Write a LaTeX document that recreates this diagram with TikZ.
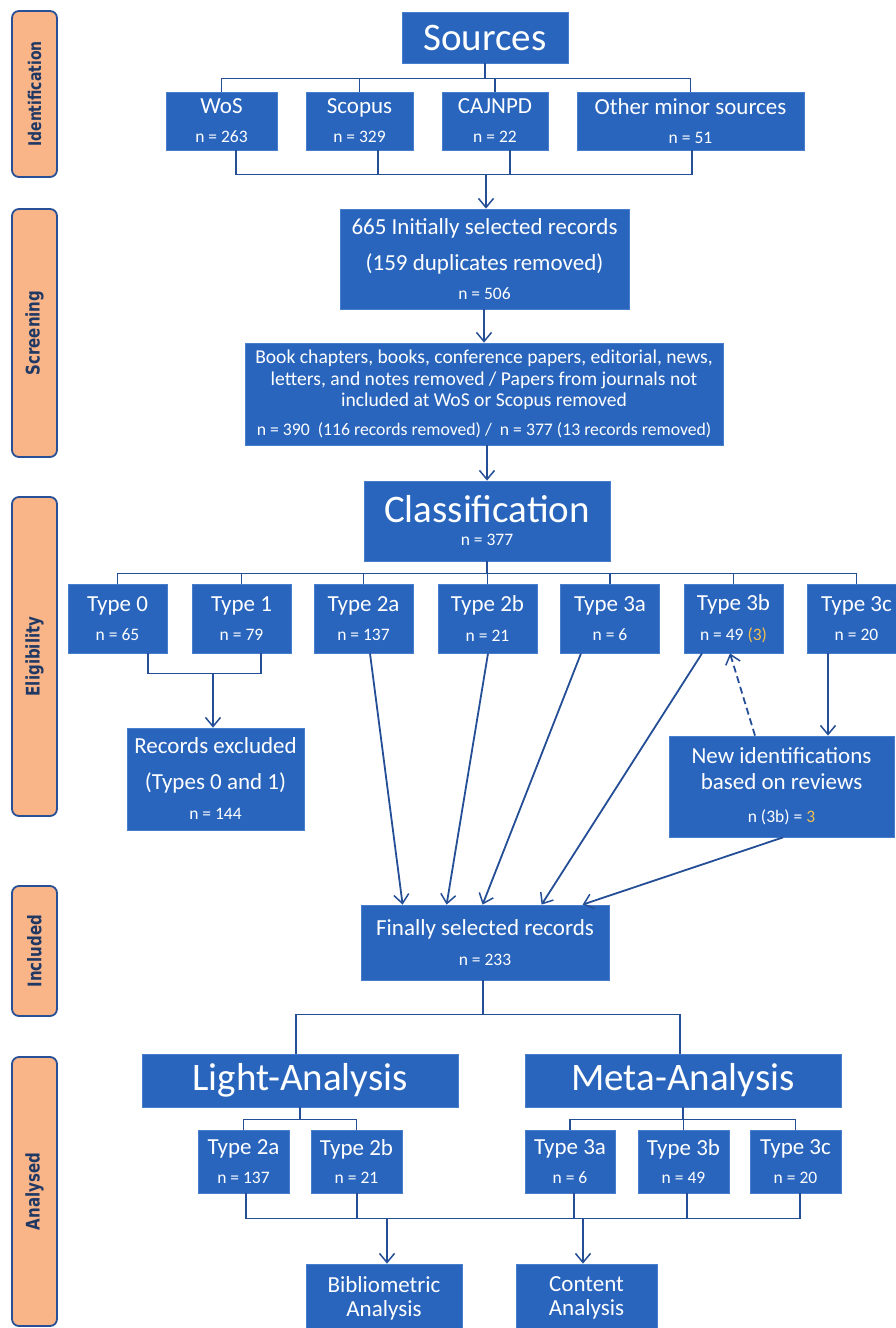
\documentclass[tikz,border=0pt]{standalone}
\usepackage{fontspec}
\setmainfont{Carlito}
\newfontfamily\lblfont{DejaVu Sans}
\usetikzlibrary{arrows.meta,calc}
\definecolor{boxblue}{RGB}{41,101,189}
\definecolor{boxedge}{RGB}{70,125,205}
\definecolor{linec}{RGB}{36,78,150}
\definecolor{lblfill}{RGB}{249,180,136}
\definecolor{lbledge}{RGB}{40,80,150}
\definecolor{lbltext}{RGB}{31,56,100}
\definecolor{gold}{RGB}{240,190,80}
\newcommand\fbig{\fontsize{39}{39}\selectfont}
\newcommand\fmain{\fontsize{23}{28}\selectfont}
\newcommand\fsmall{\fontsize{17.5}{21}\selectfont}
\newcommand\fbook{\fontsize{19.6}{21.5}\selectfont}
\newcommand\fbookn{\fontsize{17.7}{21.5}\selectfont}
\newcommand\sidetext[2][1]{\rotatebox{90}{\scalebox{1}[1.25]{#2}}}
\begin{document}
\begin{tikzpicture}[x=1pt,y=-1pt,
  box/.style={fill=boxblue,draw=boxedge,line width=0.8pt,text=white,align=center,inner sep=0pt,anchor=center},
  sk/.style={font=\fontsize{23}{#1}\selectfont},
  side/.style={fill=lblfill,draw=lbledge,line width=1.8pt,rounded corners=7pt,inner sep=0pt,anchor=center,
     minimum width=45pt,text=lbltext,font=\lblfont\bfseries\fontsize{15}{15}\selectfont},
  conn/.style={draw=linec,line width=1.8pt},
  arr/.style={conn,-{Straight Barb[length=9pt,width=15pt,line width=1.5pt]}}]
\useasboundingbox (0,0) rectangle (896,1328);
\fill[white] (0,0) rectangle (896,1328);

% side labels
\node[side,minimum height=166pt] (sId) at (34.5,94) {\sidetext{\fontsize{14}{14}\selectfont Identification}};
\node[side,minimum height=248pt] (sScr) at (34.5,333) {\sidetext{Screening}};
\node[side,minimum height=319pt] (sEl) at (34.5,656.5) {\sidetext{Eligibility}};
\node[side,minimum height=130pt] (sIn) at (34.5,951) {\sidetext{Included}};
\node[side,minimum height=269pt] (sAn) at (34.5,1191.5) {\sidetext{Analysed}};

% identification
\node[box,minimum width=166pt,minimum height=51pt] (src) at (485,37.5) {\fbig Sources};
\node[box,sk=29,minimum width=111pt,minimum height=58pt] (wos) at (221.5,121) {WoS\\\fsmall n = 263};
\node[box,sk=29,minimum width=107pt,minimum height=58pt] (sco) at (359.5,121) {Scopus\\\fsmall n = 329};
\node[box,sk=29,minimum width=106pt,minimum height=58pt] (caj) at (495,121) {CAJNPD\\\fsmall n = 22};
\node[box,sk=29,minimum width=227pt,minimum height=58pt] (oth) at (690.5,121) {Other minor sources\\\fsmall n = 51};

\coordinate (b1) at ($(src.south)+(0,15)$);
\draw[conn] (src.south) -- (b1);
\draw[conn] (wos.north) |- (b1) -| (oth.north);
\draw[conn] (sco.north) -- (sco.north |- b1);
\draw[conn] (caj.north) -- (caj.north |- b1);

\coordinate (j1) at ($(wos.south)+(14.5,24)$);
\coordinate (j2) at ($(oth.south)+(1.5,24)$);
\draw[conn] ($(wos.south)+(14.5,0)$) -- (j1) -- (j2) -- ($(oth.south)+(1.5,0)$);
\draw[conn] ($(sco.south)+(18.5,0)$) -- ++(0,24);
\draw[conn] ($(caj.south)+(15,0)$) -- ++(0,24);

% screening
\node[box,sk=29,minimum width=289pt,minimum height=100pt] (ini) at (484.5,259) {665 Initially selected records\\[7pt](159 duplicates removed)\\\fsmall n = 506};
\coordinate (j3) at (486,174);
\draw[arr] (j3) -- (j3 |- ini.north);

\node[box,font=\fbook,minimum width=478pt,minimum height=102pt] (book) at (484,394) {Book chapters, books, conference papers, editorial, news,\\letters, and notes removed / Papers from journals not\\included at WoS or Scopus removed\\[7.5pt]\fbookn n = 390~~(116 records removed) /~~n = 377 (13 records removed)};
\draw[arr] (ini.south -| book.north) -- (book.north);

% eligibility
\node[box,sk=23,minimum width=246pt,minimum height=80pt] (cls) at (487,521) {\fbig Classification\\\fsmall n = 377};
\draw[arr] (book.south -| cls.north) -- (cls.north);

\node[box,sk=29.5,minimum width=99pt,minimum height=69pt] (t0) at (117.5,618.5) {Type 0\\\fsmall n = 65};
\node[box,sk=29.5,minimum width=99pt,minimum height=69pt] (t1) at (241.5,618.5) {Type 1\\\fsmall n = 79};
\node[box,sk=29.5,minimum width=99pt,minimum height=69pt] (t2a) at (363.5,618.5) {Type 2a\\\fsmall n = 137};
\node[box,sk=29.5,minimum width=99pt,minimum height=69pt] (t2b) at (487.5,618.5) {Type 2b\\\fsmall n = 21};
\node[box,sk=29.5,minimum width=99pt,minimum height=69pt] (t3a) at (610,618.5) {Type 3a\\\fsmall n = 6};
\node[box,sk=29.5,minimum width=99pt,minimum height=69pt] (t3b) at (733.5,618.5) {Type 3b\\\fsmall n = 49 \textcolor{gold}{(3)}};
\node[box,sk=29.5,minimum width=99pt,minimum height=69pt] (t3c) at (856.5,618.5) {Type 3c\\\fsmall n = 20};

\coordinate (b2) at ($(cls.south)+(0,12)$);
\draw[conn] (cls.south) -- (b2);
\draw[conn] (t0.north) |- (b2) -| (t3c.north);
\foreach \t in {t1,t2a,t2b,t3a,t3b}{\draw[conn] (\t.north) -- (\t.north |- b2);}

\node[box,sk=30,minimum width=177pt,minimum height=102pt] (exc) at (215.5,779) {Records excluded\\[6pt](Types 0 and 1)\\\fsmall n = 144};
\coordinate (j4) at ($(t0.south)+(30.5,20)$);
\coordinate (j5) at ($(t1.south)+(19.5,20)$);
\draw[conn] ($(t0.south)+(30.5,0)$) -- (j4) -- (j5) -- ($(t1.south)+(19.5,0)$);
\draw[arr] ($(exc.north)+(-2.5,-55)$) -- ($(exc.north)+(-2.5,0)$);

\node[box,sk=26,minimum width=225pt,minimum height=101pt] (new) at (781.5,786.5) {New identifications\\based on reviews\\[7pt]\fsmall n (3b) = \textcolor{gold}{3}};
\draw[arr] ($(t3c.south)+(-28.5,0)$) -- ($(new.north)+(46.5,0)$);
\draw[arr,dash pattern=on 7pt off 4pt] ($(new.north)+(-26.5,0)$) -- ($(t3b.south)+(-3.5,0)$);

% included
\node[box,sk=29.5,minimum width=248pt,minimum height=75pt] (fin) at (485,942.5) {Finally selected records\\\fsmall n = 233};
\draw[arr] ($(t2a.south)+(6.5,0)$) -- ($(fin.north west)+(42,0)$);
\draw[arr] ($(t2b.south)+(0.5,0)$) -- ($(fin.north west)+(86,0)$);
\draw[arr] ($(t3a.south)+(-29,0)$) -- ($(fin.north west)+(122,0)$);
\draw[arr] ($(t3b.south)+(-31.5,0)$) -- ($(fin.north west)+(181,0)$);
\draw[arr] ($(new.south)+(1.5,0)$) -- ($(fin.north west)+(222,0)$);

% analysed
\node[box,minimum width=316pt,minimum height=53pt] (la) at (300,1080.5) {\fbig Light-Analysis};
\node[box,minimum width=316pt,minimum height=53pt] (ma) at (683,1080.5) {\fbig Meta-Analysis};
\coordinate (b3) at ($(fin.south)+(-2,34)$);
\draw[conn] ($(fin.south)+(-2,0)$) -- (b3);
\draw[conn] ($(la.north)+(-4,0)$) |- (b3) -| ($(ma.north)+(-3,0)$);

\node[box,sk=28.5,minimum width=91pt,minimum height=63pt] (u2a) at (243.5,1161.5) {Type 2a\\\fsmall n = 137};
\node[box,sk=28.5,minimum width=91pt,minimum height=63pt] (u2b) at (356.5,1161.5) {Type 2b\\\fsmall n = 21};
\node[box,sk=28.5,minimum width=90pt,minimum height=63pt] (u3a) at (570,1161.5) {Type 3a\\\fsmall n = 6};
\node[box,sk=28.5,minimum width=91pt,minimum height=63pt] (u3b) at (683.5,1161.5) {Type 3b\\\fsmall n = 49};
\node[box,sk=28.5,minimum width=91pt,minimum height=63pt] (u3c) at (795.5,1161.5) {Type 3c\\\fsmall n = 20};

\coordinate (b4) at ($(la.south)+(0,12)$);
\draw[conn] (la.south) -- (b4);
\draw[conn] (u2a.north) |- (b4) -| (u2b.north);
\coordinate (b5) at ($(ma.south)+(0,12)$);
\draw[conn] (ma.south) -- (b5);
\draw[conn] (u3a.north) |- (b5) -| (u3c.north);
\draw[conn] (u3b.north) -- (u3b.north |- b5);

\node[box,sk=24,minimum width=156pt,minimum height=68pt] (bib) at (384,1298) {Bibliometric\\Analysis};
\node[box,sk=24,minimum width=141pt,minimum height=68pt] (con) at (586.5,1298) {Content\\Analysis};

\coordinate (j6) at ($(u2a.south)+(2.5,25)$);
\coordinate (j7) at ($(u3c.south)+(4.5,25)$);
\draw[conn] ($(u2a.south)+(2.5,0)$) -- (j6) -- (j7) -- ($(u3c.south)+(4.5,0)$);
\draw[conn] ($(u2b.south)+(0.5,0)$) -- ++(0,25);
\draw[conn] ($(u3a.south)+(4,0)$) -- ++(0,25);
\draw[conn] ($(u3b.south)+(3.5,0)$) -- ++(0,25);
\draw[arr] ($(j6 -| bib.north)+(3,0)$) -- ($(bib.north)+(3,0)$);
\draw[arr] ($(j6 -| con.north)+(-3.5,0)$) -- ($(con.north)+(-3.5,0)$);
\end{tikzpicture}
\end{document}
